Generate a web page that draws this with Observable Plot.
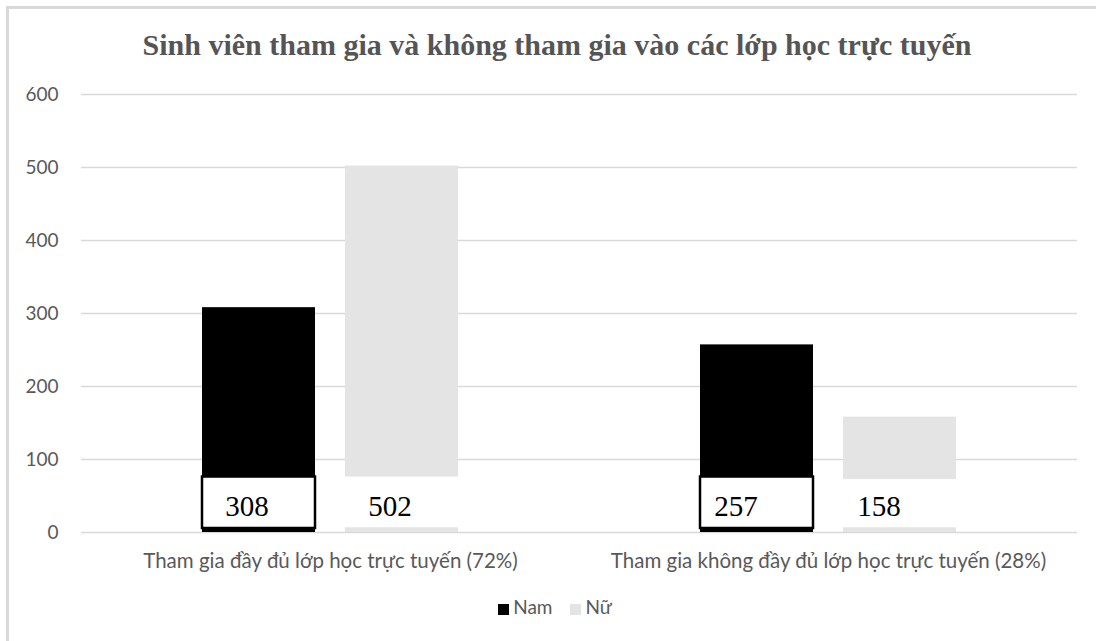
<!DOCTYPE html>
<html>
<head>
<meta charset="utf-8">
<script src="https://cdn.jsdelivr.net/npm/d3@7"></script>
<script src="https://cdn.jsdelivr.net/npm/@observablehq/plot@0.6"></script>
<style>
  html, body { margin: 0; background: #fff; overflow: hidden; }
  #wrap { position: relative; width: 1096px; height: 641px; overflow: hidden; background: #fff; }
  #frame { position: absolute; left: 6px; top: 6px; width: 1200px; height: 700px; border-left: 3px solid #d9d9d9; border-top: 3px solid #d9d9d9; }
  #title { position: absolute; left: 18px; top: 28px; width: 1078px; text-align: center; font-family: "Liberation Serif", serif; font-weight: bold; font-size: 30px; color: #555; white-space: nowrap; }
  #chart { position: absolute; left: 0; top: 75px; }
  #legend { position: absolute; top: 595px; left: 0; width: 1110px; text-align: center; font-family: Lato, sans-serif; font-size: 19px; color: #595959; }
  #legend span.sw { display: inline-block; width: 11px; height: 11px; margin-right: 4px; vertical-align: -1px; }
  #legend span.item { margin: 0 9px; }
</style>
</head>
<body>
<div id="wrap">
  <div id="frame"></div>
  <div id="title">Sinh viên tham gia và không tham gia vào các lớp học trực tuyến</div>
  <div id="chart"></div>
  <div id="legend"></div>
</div>
<script>
const categories = ["Tham gia đầy đủ lớp học trực tuyến (72%)", "Tham gia không đầy đủ lớp học trực tuyến (28%)"];
const genders = ["Nam", "Nữ"];
const namValues = [308, 257];
const nuValues = [502, 158];
const yTicks = [0, 100, 200, 300, 400, 500, 600];
const genderColors = ["#000000", "#e4e4e4"];

const data = categories.flatMap((c, i) => [
  {cat: c, g: genders[0], v: namValues[i]},
  {cat: c, g: genders[1], v: nuValues[i]}
]);

const labelText = (cat, dx) => Plot.text(data.filter(d => d.cat === cat), {
  fx: "cat", x: "g", y: 36, text: d => String(d.v),
  fontFamily: "Liberation Serif", fontSize: 29, fill: "black", dx
});

const chart = Plot.plot({
  width: 1096,
  height: 510,
  marginTop: 19,
  marginBottom: 53,
  marginLeft: 81,
  marginRight: 19,
  style: {fontFamily: "Lato, sans-serif", color: "#595959", background: "transparent"},
  fx: {domain: categories, padding: 0, label: null, axis: null},
  x: {domain: genders, paddingInner: 0.21, paddingOuter: 0.846, axis: null},
  y: {domain: [0, 600], label: null},
  color: {domain: genders, range: genderColors},
  marks: [
    Plot.ruleY(yTicks, {y: d => d, stroke: "#d9d9d9", strokeWidth: 1.5}),
    Plot.barY(data, {fx: "cat", x: "g", y: "v", fill: "g"}),
    Plot.barY(data, {
      fx: "cat", x: "g",
      y1: d => d.g === "Nam" ? 5.5 : 6.5,
      y2: d => d.g === "Nam" ? 76 : (d.v < 200 ? 72.5 : 76),
      fill: "white",
      stroke: d => d.g === "Nam" ? "black" : "none",
      strokeWidth: 2.5
    }),
    labelText(categories[0], -12),
    labelText(categories[1], -21),
    Plot.axisY({ticks: yTicks, tickSize: 0, tickPadding: 23, fontSize: 19, label: null, fill: "#595959"}),
    Plot.axisFx({anchor: "bottom", tickSize: 0, tickPadding: 21, fontSize: 20.5, label: null, fill: "#595959"})
  ]
});
document.getElementById("chart").appendChild(chart);

const legend = document.getElementById("legend");
genders.forEach((g, i) => {
  const item = document.createElement("span");
  item.className = "item";
  const sw = document.createElement("span");
  sw.className = "sw";
  sw.style.background = genderColors[i];
  item.appendChild(sw);
  item.appendChild(document.createTextNode(g));
  legend.appendChild(item);
});
</script>
</body>
</html>
